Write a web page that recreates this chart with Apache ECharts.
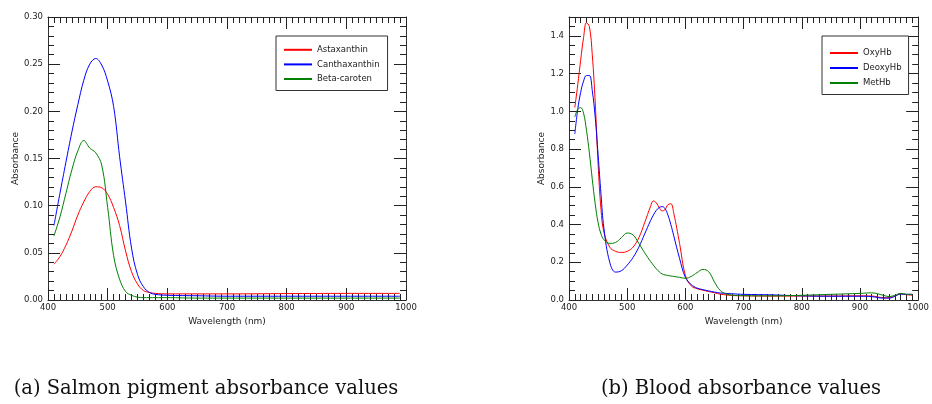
<!DOCTYPE html>
<html>
<head>
<meta charset="utf-8">
<script src="https://cdn.jsdelivr.net/npm/echarts@6/dist/echarts.min.js"></script>
<style>
  html, body { margin: 0; padding: 0; background: #fff; }
  #chart { width: 932px; height: 404px; }
</style>
</head>
<body>
<div id="chart"></div>
<script>
// (a) salmon pigments
const salmonWl = [410, 420, 430, 440, 450, 460, 470, 480, 490, 500, 510, 520, 530, 540, 550, 560, 570, 580, 600, 650, 700, 800, 900, 990]
const astaxanthin = [0.038, 0.046, 0.058, 0.073, 0.090, 0.104, 0.115, 0.120, 0.119, 0.112, 0.098, 0.079, 0.052, 0.030, 0.017, 0.010, 0.008, 0.007, 0.0065, 0.0065, 0.0065, 0.0068, 0.007, 0.007]
const canthaxanthin = [0.079, 0.113, 0.146, 0.178, 0.207, 0.233, 0.250, 0.256, 0.249, 0.232, 0.205, 0.152, 0.104, 0.055, 0.027, 0.014, 0.008, 0.006, 0.005, 0.0045, 0.004, 0.004, 0.004, 0.004]
const betaCaroten = [0.068, 0.088, 0.113, 0.138, 0.158, 0.169, 0.161, 0.156, 0.143, 0.098, 0.047, 0.022, 0.009, 0.005, 0.003, 0.0025, 0.0025, 0.0025, 0.0025, 0.002, 0.002, 0.002, 0.002, 0.002]

// (b) blood
const bloodWl = [410, 415, 420, 425, 430, 435, 440, 445, 450, 455, 460, 470, 480, 490, 500, 510, 520, 530, 540, 545, 550, 555, 560, 565, 570, 575, 580, 590, 600, 610, 620, 630, 640, 650, 660, 670, 680, 700, 750, 800, 850, 900, 920, 940, 950, 960, 970, 980, 990]
const oxyHb = [1.02, 1.14, 1.27, 1.39, 1.47, 1.45, 1.30, 1.05, 0.72, 0.48, 0.36, 0.28, 0.258, 0.252, 0.258, 0.28, 0.33, 0.41, 0.495, 0.525, 0.515, 0.49, 0.472, 0.48, 0.505, 0.51, 0.46, 0.30, 0.13, 0.075, 0.06, 0.052, 0.045, 0.038, 0.031, 0.027, 0.024, 0.022, 0.021, 0.021, 0.021, 0.022, 0.021, 0.012, 0.012, 0.02, 0.033, 0.028, 0.025]
const deoxyHb = [0.88, 1.01, 1.10, 1.16, 1.19, 1.19, 1.11, 0.97, 0.77, 0.56, 0.38, 0.20, 0.148, 0.155, 0.185, 0.225, 0.28, 0.35, 0.42, 0.45, 0.475, 0.49, 0.495, 0.485, 0.45, 0.40, 0.34, 0.22, 0.12, 0.082, 0.063, 0.055, 0.048, 0.042, 0.037, 0.035, 0.033, 0.030, 0.027, 0.022, 0.02, 0.02, 0.018, 0.01, 0.01, 0.02, 0.032, 0.03, 0.03]
const metHb = [0.97, 1.01, 1.02, 0.99, 0.90, 0.78, 0.64, 0.51, 0.41, 0.35, 0.32, 0.30, 0.305, 0.33, 0.355, 0.345, 0.30, 0.25, 0.205, 0.185, 0.165, 0.15, 0.138, 0.133, 0.13, 0.127, 0.125, 0.12, 0.115, 0.125, 0.145, 0.162, 0.15, 0.095, 0.05, 0.032, 0.026, 0.023, 0.022, 0.025, 0.03, 0.035, 0.038, 0.025, 0.018, 0.025, 0.035, 0.03, 0.03]

const captions = ['(a) Salmon pigment absorbance values', '(b) Blood absorbance values']

const FONT = 'DejaVu Sans'
const chart = echarts.init(document.getElementById('chart'))

const pairs = (xs, ys) => xs.map((x, i) => [x, ys[i]])

// frame axis with inward ticks; labels only on bottom / left
function xAxisOf(grid, pos, labels) {
    return {
        type: 'value', gridIndex: grid, position: pos,
        min: 400, max: 1000, interval: 100,
        name: labels ? 'Wavelength (nm)' : '', nameLocation: 'middle', nameGap: 11,
        nameTextStyle: { fontFamily: FONT, fontSize: 9, color: '#222' },
        axisLine: { show: true, onZero: false, lineStyle: { color: '#333', width: 1 } },
        axisTick: { show: true, inside: true, length: 12, lineStyle: { color: '#222' } },
        minorTick: { show: true, splitNumber: 10, length: 6, lineStyle: { color: '#222' } },
        axisLabel: {
            show: labels, fontFamily: FONT, fontSize: 8.5, color: '#222', margin: 3,
            alignMaxLabel: 'center', alignMinLabel: 'center',
            formatter: v => String(v)
        },
        splitLine: { show: false }
    }
}

function yAxisOf(grid, pos, labels, max, interval, minor, digits, gap, showMax) {
    return {
        type: 'value', gridIndex: grid, position: pos,
        min: 0, max: max, interval: interval,
        name: labels ? 'Absorbance' : '', nameLocation: 'middle', nameGap: gap,
        nameTextStyle: { fontFamily: FONT, fontSize: 9, color: '#222' },
        axisLine: { show: true, onZero: false, lineStyle: { color: '#333', width: 1 } },
        axisTick: { show: true, inside: true, length: 12, lineStyle: { color: '#222' } },
        minorTick: { show: true, splitNumber: minor, length: 6, lineStyle: { color: '#222' } },
        axisLabel: {
            show: labels, fontFamily: FONT, fontSize: 8.5, color: '#222', margin: 5,
            showMaxLabel: showMax,
            formatter: v => v.toFixed(digits)
        },
        splitLine: { show: false }
    }
}

function lineSeries(name, color, xIdx, yIdx, data) {
    return {
        name: name, type: 'line', xAxisIndex: xIdx, yAxisIndex: yIdx,
        data: data, smooth: 0.4,
        symbol: 'none', color: color,
        lineStyle: { width: 1, color: color },
        animation: false
    }
}

const legendStyle = {
    orient: 'vertical', itemWidth: 28, itemHeight: 10,
    borderColor: '#333', borderWidth: 1, backgroundColor: '#fff',
    itemStyle: { opacity: 0 },
    textStyle: { fontFamily: FONT, fontSize: 8.5, color: '#222' }
}

const option = {
    backgroundColor: '#fff',
    animation: false,
    grid: [
        { left: 48, top: 17, width: 358, height: 283 },
        { left: 569, top: 17, width: 358, height: 283 }
    ],
    xAxis: [
        xAxisOf(0, 'bottom', true), xAxisOf(0, 'top', false),
        xAxisOf(1, 'bottom', true), xAxisOf(1, 'top', false)
    ],
    yAxis: [
        yAxisOf(0, 'left', true, 0.3, 0.05, 5, 2, 27, true), yAxisOf(0, 'right', false, 0.3, 0.05, 5, 2, 27, true),
        yAxisOf(1, 'left', true, 1.5, 0.2, 4, 1, 21, false), yAxisOf(1, 'right', false, 1.5, 0.2, 4, 1, 21, false)
    ],
    legend: [
        Object.assign({}, legendStyle, {
            left: 276, top: 36, itemGap: 5.6, padding: [9.3, 8, 7, 7],
            data: ['Astaxanthin', 'Canthaxanthin', 'Beta-caroten']
        }),
        Object.assign({}, legendStyle, {
            left: 822, top: 36, itemGap: 6, padding: [12.5, 7, 7, 7],
            data: ['OxyHb', 'DeoxyHb', 'MetHb']
        })
    ],
    series: [
        lineSeries('Astaxanthin', '#ff0000', 0, 0, pairs(salmonWl, astaxanthin)),
        lineSeries('Canthaxanthin', '#0000ff', 0, 0, pairs(salmonWl, canthaxanthin)),
        lineSeries('Beta-caroten', '#008000', 0, 0, pairs(salmonWl, betaCaroten)),
        lineSeries('OxyHb', '#ff0000', 2, 2, pairs(bloodWl, oxyHb)),
        lineSeries('DeoxyHb', '#0000ff', 2, 2, pairs(bloodWl, deoxyHb)),
        lineSeries('MetHb', '#008000', 2, 2, pairs(bloodWl, metHb))
    ],
    graphic: [
        {
            type: 'text', x: 206, y: 389,
            style: { text: captions[0], font: '19.5px "DejaVu Serif"', fill: '#111', textAlign: 'center', textVerticalAlign: 'middle' }
        },
        {
            type: 'text', x: 741, y: 389,
            style: { text: captions[1], font: '19.5px "DejaVu Serif"', fill: '#111', textAlign: 'center', textVerticalAlign: 'middle' }
        }
    ]
}

chart.setOption(option)

window.addEventListener('resize', () => {
    chart.resize()
})
</script>
</body>
</html>
